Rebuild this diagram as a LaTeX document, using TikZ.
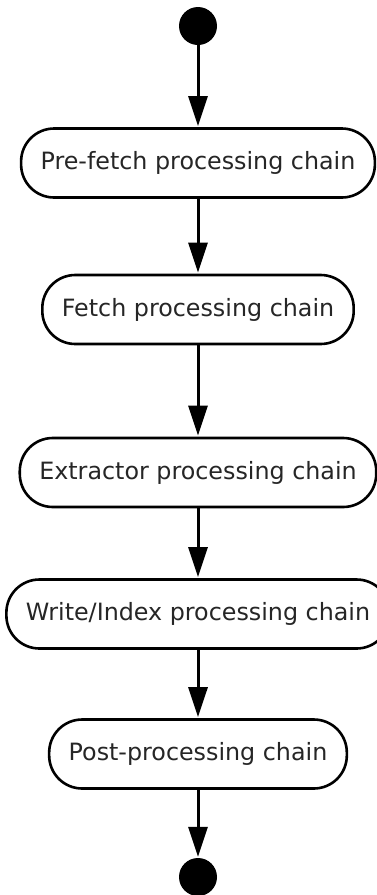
\documentclass[tikz,border=0pt]{standalone}
\usepackage{fontspec}
\setmainfont{DejaVu Sans}
\usetikzlibrary{arrows.meta}

\tikzset{
  chainbox/.style={draw=black, line width=2.6pt, fill=white, rounded corners=33pt,
    minimum height=69pt, inner xsep=19.5pt, inner ysep=0pt,
    font=\fontsize{23.8pt}{26pt}\selectfont, text=black!85},
  terminal/.style={circle, fill=black, draw=none, minimum size=38pt, inner sep=0pt},
  flow/.style={line width=3pt, -{Triangle[length=30pt, width=19pt]}, shorten >=1pt}
}

\begin{document}
\begin{tikzpicture}[x=1pt, y=-1pt]
  \useasboundingbox (0,0) rectangle (376,895);

  \node[terminal] (start) at (198,26) {};
  \node[chainbox] (prefetch) at (198,163) {Pre-fetch processing chain};
  \node[chainbox] (fetch) at (198,309.5) {Fetch processing chain};
  \node[chainbox] (extract) at (198,472.5) {Extractor processing chain};
  \node[chainbox] (write) at (198,614) {Write/Index processing chain};
  \node[chainbox] (post) at (198,754) {Post-processing chain};
  \node[terminal] (end) at (198,877) {};

  \draw[flow] (start) -- (prefetch);
  \draw[flow] (prefetch) -- (fetch);
  \draw[flow] (fetch) -- (extract);
  \draw[flow] (extract) -- (write);
  \draw[flow] (write) -- (post);
  \draw[flow] (post) -- (end);
\end{tikzpicture}
\end{document}
